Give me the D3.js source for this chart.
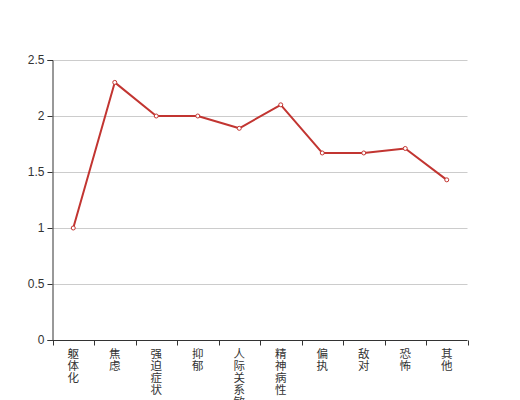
<!DOCTYPE html>
<html><head><meta charset="utf-8">
<script src="https://cdn.jsdelivr.net/npm/d3@7"></script>
<style>body{margin:0;background:#fff}svg{display:block}</style>
</head><body><svg id="c" width="520" height="400"></svg>
<script>
const categories = ["躯体化","焦虑","强迫症状","抑郁","人际关系敏感","精神病性","偏执","敌对","恐怖","其他"];
const values = [1.0, 2.3, 2.0, 2.0, 1.89, 2.1, 1.67, 1.67, 1.71, 1.43];
const yTicks = [0, 0.5, 1, 1.5, 2, 2.5];

(function() {
const svg = d3.select("#c");
const font = "'Noto Sans CJK SC', sans-serif";
const numFont = "'Liberation Sans', Arial, sans-serif";
const mLeft = 52.5, mRight = 467.5, mTop = 60, mBottom = 340;

const x = d3.scaleBand().domain(categories).range([mLeft, mRight]);
const y = d3.scaleLinear().domain([0, 2.5]).range([mBottom, mTop]);

// grid
svg.append("g").selectAll("line").data(yTicks.filter(d => d > 0)).join("line")
  .attr("x1", mLeft).attr("x2", mRight)
  .attr("y1", d => Math.round(y(d)) + 0.5).attr("y2", d => Math.round(y(d)) + 0.5)
  .attr("stroke", "#ccc").attr("stroke-width", 1);

// y axis
const yAxis = svg.append("g").attr("transform", `translate(${mLeft},0)`)
  .call(d3.axisLeft(y).tickValues(yTicks).tickSize(5).tickPadding(3).tickFormat(d3.format("")));
yAxis.selectAll("path,line").attr("stroke", "#333");
yAxis.selectAll("text").attr("fill", "#333").style("font-size", "12px").style("font-family", numFont);

// x axis
const xg = svg.append("g").attr("transform", `translate(0,${mBottom + 0.5})`);
xg.append("line").attr("x1", mLeft).attr("x2", mRight).attr("stroke", "#333");
const bounds = categories.map(c => x(c)).concat([mRight]);
xg.selectAll("line.t").data(bounds).join("line").attr("class", "t")
  .attr("x1", d => Math.round(d) + 0.5).attr("x2", d => Math.round(d) + 0.5)
  .attr("y1", 0).attr("y2", 5).attr("stroke", "#333");
xg.selectAll("text").data(categories).join("text")
  .attr("fill", "#333").style("font-size", "11.5px").style("font-family", font)
  .attr("text-anchor", "middle")
  .each(function(c) {
    const t = d3.select(this);
    Array.from(c).forEach((ch, i) => {
      t.append("tspan").attr("x", x(c) + x.bandwidth() / 2).attr("y", 17 + i * 12).text(ch);
    });
  });

// line
const cx = c => x(c) + x.bandwidth() / 2;
svg.append("path").datum(values)
  .attr("d", d3.line().x((d, i) => cx(categories[i])).y(d => y(d)))
  .attr("fill", "none").attr("stroke", "#c23531").attr("stroke-width", 2).attr("stroke-linejoin", "round");
svg.append("g").selectAll("circle").data(values).join("circle")
  .attr("cx", (d, i) => cx(categories[i])).attr("cy", d => y(d)).attr("r", 2)
  .attr("fill", "#fff").attr("stroke", "#c23531").attr("stroke-width", 1);
})();
</script></body></html>
